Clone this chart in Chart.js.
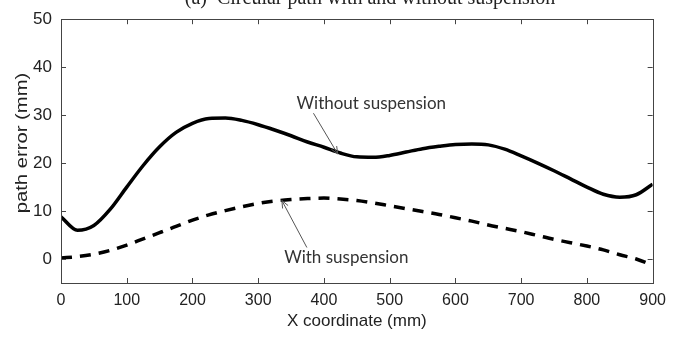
<!DOCTYPE html>
<html>
<head>
<meta charset="utf-8">
<script src="https://cdn.jsdelivr.net/npm/chart.js@4.4.1/dist/chart.umd.min.js"></script>
<style>
  html, body { margin: 0; padding: 0; background: #fff; }
  #wrap { width: 674px; height: 340px; }
</style>
</head>
<body>
<div id="wrap"><canvas id="err-chart" width="674" height="340"></canvas></div>
<script>
// X positions (mm) shared by both runs
const xCoord = [0, 25, 50, 75, 100, 125, 150, 175, 200, 225, 250, 275, 300, 325, 350,
  375, 400, 425, 450, 475, 500, 525, 550, 575, 600, 625, 650, 675, 700, 725, 750,
  775, 800, 825, 850, 875, 900];

// Path error without suspension (mm)
const errWithout = [8.8, 6.0, 7.0, 10.4, 15.0, 19.5, 23.4, 26.4, 28.3, 29.3, 29.4,
  28.9, 28.0, 26.9, 25.7, 24.4, 23.3, 22.1, 21.3, 21.2, 21.6, 22.3, 23.0, 23.5,
  23.9, 24.0, 23.8, 22.9, 21.5, 20.0, 18.4, 16.7, 15.0, 13.5, 12.9, 13.4, 15.6];

// Path error with suspension (mm)
const errWith = [0.2, 0.5, 1.0, 1.8, 2.9, 4.2, 5.5, 6.8, 8.1, 9.2, 10.1, 10.9, 11.6,
  12.1, 12.4, 12.6, 12.7, 12.5, 12.2, 11.7, 11.1, 10.5, 9.9, 9.3, 8.6, 7.9, 7.1,
  6.4, 5.7, 4.9, 4.1, 3.4, 2.7, 1.9, 0.9, 0.0, -1.3];

const xTicks = [0, 100, 200, 300, 400, 500, 600, 700, 800, 900];
const yTicks = [0, 10, 20, 30, 40, 50];

const titleText = '(a)  Circular path with and without suspension';
const xLabel = 'X coordinate (mm)';
const yLabel = 'path error (mm)';

// callouts: text anchor, arrow tail, arrow head (in data units)
const callouts = [
  { text: 'Without suspension', at: [472, 31.2], from: [384, 30.4], to: [421, 21.9] },
  { text: 'With suspension', at: [434, -0.8], from: [374, 2.4], to: [336, 12.2] }
];

const AXIS = '#444';
const INK = '#222';
const SANS = 'Arial, "Liberation Sans", sans-serif';

function toPoints(ys) {
  return xCoord.map((x, i) => ({ x: x, y: ys[i] }));
}

// box, inward ticks, title, y label and callouts
const decorPlugin = {
  id: 'decor',
  afterDatasetsDraw(chart) {
    const { ctx, chartArea: a, scales: { x, y } } = chart;
    ctx.save();
    ctx.strokeStyle = AXIS;
    ctx.lineWidth = 1;
    ctx.strokeRect(Math.round(a.left) + 0.5, Math.round(a.top) + 0.5,
      Math.round(a.right - a.left), Math.round(a.bottom - a.top));

    const tl = 5;
    ctx.beginPath();
    xTicks.forEach(v => {
      const px = Math.round(x.getPixelForValue(v)) + 0.5;
      ctx.moveTo(px, a.bottom); ctx.lineTo(px, a.bottom - tl);
      ctx.moveTo(px, a.top); ctx.lineTo(px, a.top + tl);
    });
    yTicks.forEach(v => {
      const py = Math.round(y.getPixelForValue(v)) + 0.5;
      ctx.moveTo(a.left, py); ctx.lineTo(a.left + tl, py);
      ctx.moveTo(a.right, py); ctx.lineTo(a.right - tl, py);
    });
    ctx.stroke();

    // title, mostly above the top edge
    ctx.fillStyle = INK;
    ctx.font = '20px "Liberation Serif", "Times New Roman", serif';
    ctx.textAlign = 'center';
    ctx.textBaseline = 'alphabetic';
    ctx.fillText(titleText, 370, 4);

    // axis titles
    ctx.font = '17px ' + SANS;
    ctx.textBaseline = 'middle';
    ctx.fillText(xLabel, (a.left + a.right) / 2, 321);
    ctx.save();
    ctx.translate(22, 143);
    ctx.rotate(-Math.PI / 2);
    ctx.scale(1.19, 1);
    ctx.fillText(yLabel, 0, 0);
    ctx.restore();

    // callouts
    ctx.font = '17px Lato, "Open Sans", sans-serif';
    ctx.textBaseline = 'alphabetic';
    callouts.forEach(c => {
      ctx.fillStyle = '#333';
      ctx.fillText(c.text, x.getPixelForValue(c.at[0]), y.getPixelForValue(c.at[1]));
      const x0 = x.getPixelForValue(c.from[0]), y0 = y.getPixelForValue(c.from[1]);
      const x1 = x.getPixelForValue(c.to[0]), y1 = y.getPixelForValue(c.to[1]);
      const ang = Math.atan2(y1 - y0, x1 - x0);
      ctx.strokeStyle = '#555';
      ctx.lineWidth = 1;
      ctx.beginPath();
      ctx.moveTo(x0, y0); ctx.lineTo(x1, y1);
      ctx.moveTo(x1 - 8 * Math.cos(ang - 0.4), y1 - 8 * Math.sin(ang - 0.4));
      ctx.lineTo(x1, y1);
      ctx.lineTo(x1 - 8 * Math.cos(ang + 0.4), y1 - 8 * Math.sin(ang + 0.4));
      ctx.stroke();
    });
    ctx.restore();
  }
};

new Chart(document.getElementById('err-chart'), {
  type: 'line',
  data: {
    datasets: [
      {
        label: 'Without suspension',
        data: toPoints(errWithout),
        borderColor: '#000',
        borderWidth: 3.5,
        pointRadius: 0,
        cubicInterpolationMode: 'monotone',
        fill: false
      },
      {
        label: 'With suspension',
        data: toPoints(errWith),
        borderColor: '#000',
        borderWidth: 3.5,
        borderDash: [11, 8],
        pointRadius: 0,
        cubicInterpolationMode: 'monotone',
        fill: false
      }
    ]
  },
  options: {
    responsive: false,
    animation: false,
    layout: { padding: { top: 15, right: 18, left: 0, bottom: 0 } },
    plugins: { legend: { display: false }, tooltip: { enabled: false } },
    scales: {
      x: {
        type: 'linear',
        min: 0,
        max: 900,
        afterBuildTicks: s => { s.ticks = xTicks.map(v => ({ value: v })); },
        afterFit: s => { s.height = 57; },
        grid: { display: false, drawTicks: false },
        border: { display: false },
        ticks: {
          color: INK,
          padding: 8,
          maxRotation: 0,
          font: { family: SANS, size: 16 }
        }
      },
      y: {
        min: -5,
        max: 50,
        afterBuildTicks: s => { s.ticks = yTicks.map(v => ({ value: v })); },
        afterFit: s => { s.width = 61; },
        grid: { display: false, drawTicks: false },
        border: { display: false },
        ticks: {
          color: INK,
          padding: 9,
          font: { family: SANS, size: 17 }
        }
      }
    }
  },
  plugins: [decorPlugin]
});
</script>
</body>
</html>
